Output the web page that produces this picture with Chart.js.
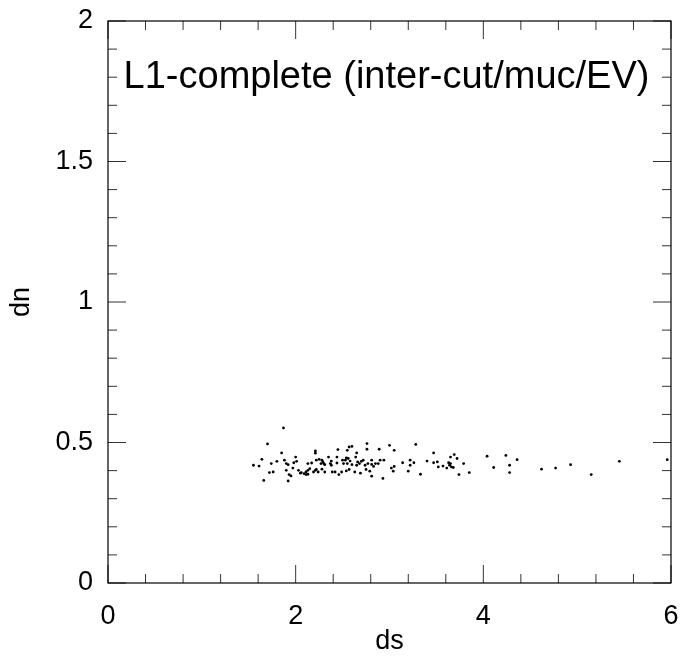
<!DOCTYPE html>
<html>
<head>
<meta charset="utf-8">
<script src="https://cdn.jsdelivr.net/npm/chart.js@4/dist/chart.umd.min.js"></script>
<style>
html,body{margin:0;padding:0;background:#fff;}
#c{display:block;}
</style>
</head>
<body>
<canvas id="c" width="696" height="661"></canvas>
<script>
const chartTitle = "L1-complete (inter-cut/muc/EV)";
const xAxisTitle = "ds";
const yAxisTitle = "dn";
const xTickValues = [0, 2, 4, 6];
const xTickLabels = ["0", "2", "4", "6"];
const yTickValues = [0, 0.5, 1, 1.5, 2];
const yTickLabels = ["0", "0.5", "1", "1.5", "2"];

const dsValues = [
  1.55, 1.61,
  1.87, 1.70, 1.64, 1.66, 1.85, 1.88, 1.80, 1.74, 1.72, 1.76, 1.90, 1.92, 1.90, 1.93, 1.95, 1.92,
  2.00, 2.01, 1.98, 1.97, 2.03, 2.05, 2.06, 2.09, 2.11, 2.13, 2.11, 2.13, 2.15, 2.13, 2.17, 2.21,
  2.21, 2.19, 2.21, 2.22, 2.24, 2.22, 2.25, 2.28, 2.29, 2.27, 2.30, 2.31, 2.28, 2.31, 2.35, 2.37,
  2.38, 2.38, 2.39, 2.42, 2.44, 2.44, 2.45, 2.46, 2.49, 2.51, 2.50, 2.53, 2.54, 2.55, 2.55, 2.57,
  2.60, 2.56, 2.58, 2.60, 2.57, 2.54, 2.63, 2.65, 2.64, 2.66, 2.65, 2.68, 2.69, 2.70, 2.72, 2.74,
  2.76, 2.76, 2.75, 2.79, 2.77, 2.81, 2.81, 2.83, 2.85, 2.81, 2.88, 2.89, 2.90, 2.93, 2.94, 3.00,
  3.05, 3.02, 3.05, 3.04, 3.14, 3.20, 3.22, 3.22, 3.26, 3.28, 3.33, 3.40, 3.47, 3.47, 3.51, 3.52,
  3.57, 3.61, 3.63, 3.65, 3.69, 3.65, 3.64, 3.66, 3.68, 3.72, 3.74, 3.79, 3.85, 4.04, 4.11, 4.24,
  4.28, 4.28, 4.36,
  4.62, 4.77, 4.93, 5.15, 5.45, 5.96
];
const dnValues = [
  0.419, 0.416,
  0.552, 0.495, 0.440, 0.365, 0.463, 0.437, 0.433, 0.425, 0.393, 0.395, 0.425, 0.421, 0.401, 0.386, 0.381, 0.363,
  0.448, 0.433, 0.428, 0.409, 0.401, 0.391, 0.393, 0.389, 0.395, 0.401, 0.386, 0.387, 0.407, 0.425, 0.427, 0.470,
  0.462, 0.395, 0.401, 0.404, 0.395, 0.437, 0.440, 0.437, 0.431, 0.425, 0.425, 0.421, 0.405, 0.395, 0.448, 0.425,
  0.419, 0.434, 0.395, 0.395, 0.448, 0.427, 0.475, 0.386, 0.395, 0.425, 0.437, 0.437, 0.445, 0.425, 0.472, 0.484,
  0.486, 0.443, 0.434, 0.421, 0.404, 0.399, 0.395, 0.463, 0.448, 0.431, 0.419, 0.425, 0.391, 0.433, 0.437, 0.419,
  0.496, 0.476, 0.404, 0.398, 0.425, 0.437, 0.422, 0.415, 0.425, 0.380, 0.425, 0.476, 0.437, 0.372, 0.437, 0.490,
  0.472, 0.409, 0.415, 0.398, 0.428, 0.398, 0.437, 0.419, 0.428, 0.493, 0.387, 0.434, 0.463, 0.428, 0.431, 0.413,
  0.416, 0.409, 0.428, 0.448, 0.457, 0.425, 0.419, 0.413, 0.411, 0.443, 0.386, 0.425, 0.393, 0.451, 0.411, 0.454,
  0.419, 0.393, 0.439,
  0.405, 0.409, 0.421, 0.386, 0.433, 0.439
];

const points = dsValues.map((x, i) => ({x: x, y: dnValues[i]}));

const FONT = "'Liberation Sans', Arial, Helvetica, sans-serif";

const framePlugin = {
  id: 'frameTicks',
  afterDatasetsDraw(chart) {
    const ctx = chart.ctx;
    const a = chart.chartArea;
    const xs = chart.scales.x, ys = chart.scales.y;
    ctx.save();
    ctx.strokeStyle = '#333';
    ctx.lineWidth = 1;
    ctx.beginPath();
    for (let i = 0; i <= 15; i++) {
      const v = +(i * 0.4).toFixed(4);
      const major = xTickValues.includes(v);
      const len = major ? 18 : 9;
      const px = xs.getPixelForValue(v);
      ctx.moveTo(px, a.bottom); ctx.lineTo(px, a.bottom - len);
      ctx.moveTo(px, a.top); ctx.lineTo(px, a.top + len);
    }
    for (let i = 0; i <= 20; i++) {
      const v = +(i * 0.1).toFixed(4);
      const major = yTickValues.includes(v);
      const len = major ? 18 : 9;
      const py = ys.getPixelForValue(v);
      ctx.moveTo(a.left, py); ctx.lineTo(a.left + len, py);
      ctx.moveTo(a.right, py); ctx.lineTo(a.right - len, py);
    }
    ctx.stroke();
    ctx.strokeStyle = '#000';
    ctx.lineWidth = 1.2;
    ctx.strokeRect(a.left, a.top, a.right - a.left, a.bottom - a.top);
    ctx.fillStyle = '#000';
    ctx.font = '38px ' + FONT;
    ctx.textAlign = 'center';
    ctx.textBaseline = 'alphabetic';
    ctx.fillText(chartTitle, (a.left + a.right) / 2 - 3, a.top + 66.5);
    ctx.restore();
  }
};

new Chart(document.getElementById('c'), {
  type: 'scatter',
  data: {
    datasets: [{
      data: points,
      backgroundColor: '#000',
      borderColor: '#000',
      borderWidth: 0,
      pointRadius: 1.4,
      pointHoverRadius: 1.4
    }]
  },
  options: {
    responsive: false,
    animation: false,
    events: [],
    layout: { padding: { left: 0, top: 21, right: 25, bottom: 0 } },
    plugins: { legend: { display: false }, tooltip: { enabled: false } },
    scales: {
      x: {
        type: 'linear', min: 0, max: 6,
        afterBuildTicks: s => { s.ticks = xTickValues.map(v => ({value: v})); },
        afterFit: s => { s.height = 78; s.paddingLeft = 0; s.paddingRight = 0; },
        ticks: {
          callback: (v) => { const i = xTickValues.indexOf(v); return i >= 0 ? xTickLabels[i] : ''; },
          font: { family: FONT, size: 27 }, color: '#000', padding: 17, maxRotation: 0, autoSkip: false
        },
        grid: { display: false, drawTicks: false },
        border: { display: false },
        title: { display: true, text: xAxisTitle, font: { family: FONT, size: 27 }, color: '#000', padding: { top: 0, bottom: 3 } }
      },
      y: {
        type: 'linear', min: 0, max: 2,
        afterBuildTicks: s => { s.ticks = yTickValues.map(v => ({value: v})); },
        afterFit: s => { s.width = 108; s.paddingTop = 0; s.paddingBottom = 0; },
        ticks: {
          callback: (v) => { const i = yTickValues.indexOf(v); return i >= 0 ? yTickLabels[i] : ''; },
          font: { family: FONT, size: 27 }, color: '#000', padding: 15, autoSkip: false
        },
        grid: { display: false, drawTicks: false },
        border: { display: false },
        title: { display: true, text: yAxisTitle, font: { family: FONT, size: 27 }, color: '#000', padding: { top: 5, bottom: 0 } }
      }
    }
  },
  plugins: [framePlugin]
});
</script>
</body>
</html>
